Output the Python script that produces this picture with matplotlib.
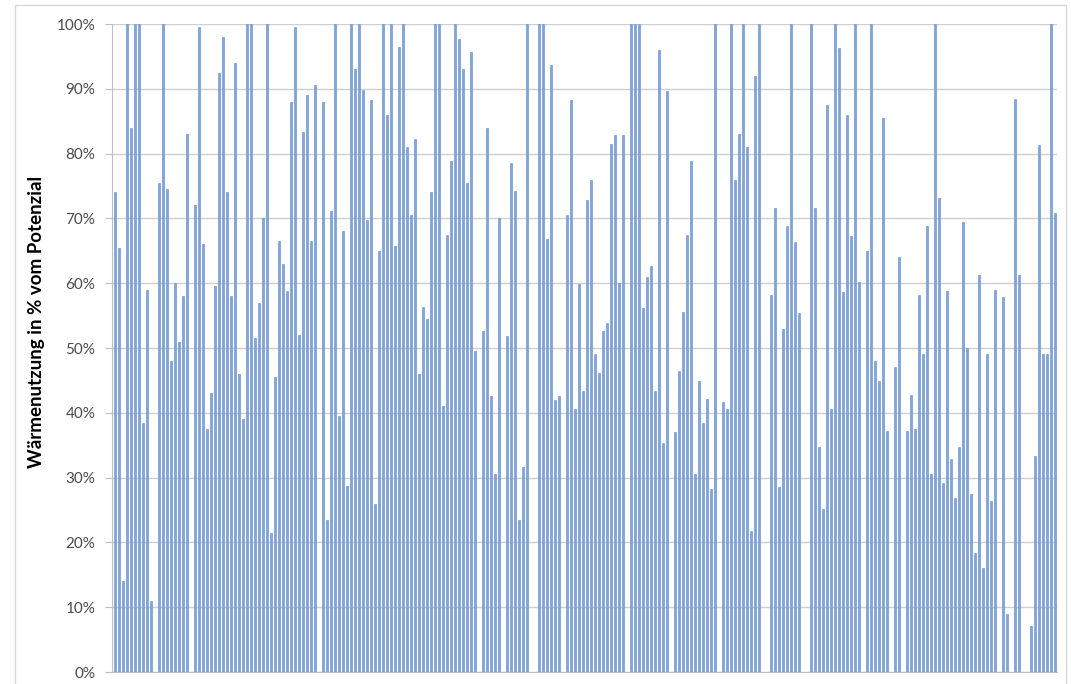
import matplotlib
matplotlib.use("Agg")
import matplotlib.pyplot as plt
import numpy as np
from matplotlib.patches import Rectangle

# Wärmenutzung per plant, percent of potential (0 = empty slot)
values = [
    74, 65.5, 14, 100, 84, 100, 100, 38.5, 59, 11, 0, 75.5, 100, 74.5, 48, 60, 51, 58, 83, 0,
    72, 99.5, 66, 37.5, 43, 59.5, 92.5, 98, 74, 58,
    94, 46, 39, 100, 100, 51.5, 57, 70, 100, 21.5, 45.5, 66.5, 63, 58.8, 88, 99.5, 52, 83.3,
    89, 66.5, 90.6, 0, 88, 23.5, 71.2, 100, 39.5, 68, 28.7,
    100, 93, 100, 89.8, 69.7, 88.2, 26, 65, 100, 86, 100, 65.8, 96.4, 100, 81, 70.5, 82.2,
    46, 56.3, 54.5, 74, 100, 100, 41, 67.4, 78.8, 100, 97.7, 93, 75.5, 95.7,
    49.5, 0, 52.6, 84, 42.6, 30.5, 70, 0, 51.8, 78.6, 74.3, 23.5, 31.7, 100, 0, 0, 100, 100,
    66.8, 93.6, 41.9, 42.6, 0, 70.5, 88.3, 40.6, 59.8, 43.4, 72.8, 76,
    49, 46.2, 52.6, 53.8, 81.5, 82.9, 60, 82.9, 0, 100, 100, 100, 56.1, 60.9, 62.7, 43.4,
    96, 35.3, 89.6, 0, 37, 46.4, 55.6, 67.4, 78.8, 30.5, 44.9, 38.4, 42.2, 28.3,
    100, 0, 41.6, 40.6, 100, 75.9, 83.1, 100, 81, 21.8, 91.9, 100, 0, 0, 58.2, 71.6, 28.5,
    53, 68.9, 100, 66.4, 55.4, 0, 0, 100, 71.6, 34.7, 25.1, 87.5, 40.6,
    100, 96.3, 58.6, 85.9, 67.3, 100, 60.2, 0, 65, 100, 48, 44.9, 85.5, 37.2, 0, 47, 64.1,
    0, 37.2, 42.8, 37.5, 58.2, 49, 68.9, 30.6, 100, 73.2, 29.1, 58.8, 32.9,
    26.8, 34.7, 69.4, 50, 27.4, 18.4, 61.2, 16, 49, 26.4, 59, 0, 57.9, 9, 0, 88.5, 61.2,
    0, 0, 7.1, 33.4, 81.4, 49, 49, 100, 70.9,
]
y_ticks = [0, 10, 20, 30, 40, 50, 60, 70, 80, 90, 100]
y_label = "Wärmenutzung in % vom Potenzial"

fig = plt.figure(figsize=(10.71, 6.84), dpi=100)
ax = fig.add_axes([112 / 1071, 12 / 684, 945 / 1071, 648 / 684])

# chart frame like the Excel chart area
fig.patches.append(Rectangle((15 / 1071, -0.1), 1051 / 1071, 1.1 - 5 / 684,
                             transform=fig.transFigure, fill=False,
                             edgecolor="#d8d8d8", linewidth=1.0))

x = np.arange(len(values))
ax.bar(x, values, width=0.45, color="#82a6d8", edgecolor="#5f89c6", linewidth=0.4, zorder=3)

ax.set_xlim(-0.75, len(values) - 0.5)
ax.set_ylim(0, 100)
ax.set_yticks(y_ticks)
ax.set_yticklabels([f"{v}%" for v in y_ticks], fontsize=11, color="#4a4a4a", family="Lato")
ax.set_xticks([])
ax.yaxis.grid(True, color="#cfcfcf", linewidth=1.0, zorder=0)
ax.tick_params(axis="y", length=5, color="#bfbfbf", pad=7)

for s in ["top", "right"]:
    ax.spines[s].set_visible(False)
ax.spines["left"].set_color("#bfbfbf")
ax.spines["bottom"].set_color("#bfbfbf")

ax.set_ylabel(y_label, fontsize=13.5, fontweight="bold", family="Lato")
ax.yaxis.set_label_coords(-0.071, 0.54)

fig.savefig("out.png", dpi=100)
